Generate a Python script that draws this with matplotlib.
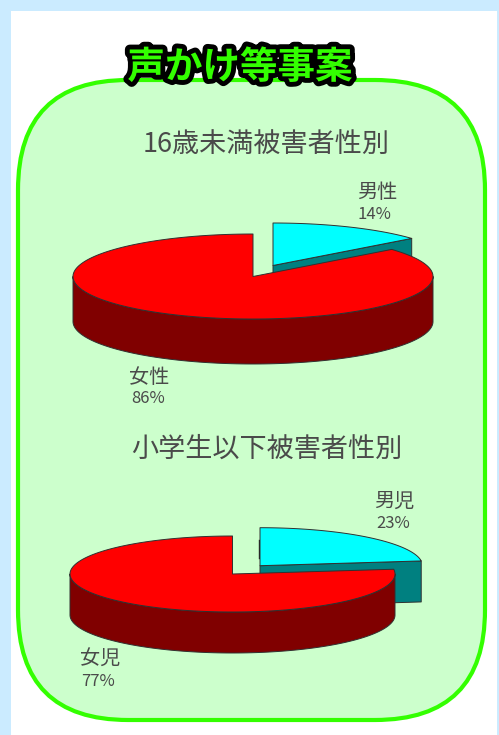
#!/usr/bin/env python3
# coding=utf-8
import numpy as np
import matplotlib
matplotlib.use("Agg")
import matplotlib.pyplot as plt
import matplotlib.patheffects as pe
from matplotlib.patches import FancyBboxPatch, Rectangle

plt.rcParams['font.family'] = ['Noto Sans CJK JP', 'DejaVu Sans']

title = "声かけ等事案"

chart1_title = "16歳未満被害者性別"
chart1_labels = ["女性", "男性"]
chart1_values = [86, 14]

chart2_title = "小学生以下被害者性別"
chart2_labels = ["女児", "男児"]
chart2_values = [77, 23]

RED, DARK_RED = "#ff0000", "#800000"
CYAN, TEAL = "#00ffff", "#008080"
EDGE = "#303030"
TEXT = "#4a4a4a"


def ell(cx, cy, rx, ry, a0, a1, n=120):
    a = np.radians(np.linspace(a0, a1, n))
    return cx + rx * np.cos(a), cy - ry * np.sin(a)


def edge_fill(ax, x, y, color, z):
    ax.fill(x, y, facecolor=color, edgecolor=EDGE, linewidth=0.7, zorder=z, joinstyle="round")


def pie3d(ax, values, c, rx, ry, depth, offset, back_mark=False):
    cx, cy = c
    dx, dy = offset
    # big slice starts at 12 o'clock and runs counter-clockwise
    end = 90 + 360 * values[0] / sum(values)
    end2 = end - 360
    px, py = cx + dx, cy + dy

    # exploded small slice
    x, y = ell(px, py, rx, ry, end2, 90)
    tx, ty = x[0], y[0]
    edge_fill(ax, [px, tx, tx, px], [py, ty, ty + depth, py + depth], TEAL, 2)
    if back_mark:
        ax.plot([px - 1, px - 1], [py - 26, py - 8], color="#202020", lw=1, zorder=2)
    edge_fill(ax, np.r_[px, x], np.r_[py, y], CYAN, 3)

    # side wall of big slice
    xs, ys = ell(cx, cy, rx, ry, 180, 360)
    edge_fill(ax, np.r_[xs, xs[::-1]], np.r_[ys, ys[::-1] + depth], DARK_RED, 4)
    # top of big slice
    x, y = ell(cx, cy, rx, ry, 90, end, 200)
    edge_fill(ax, np.r_[cx, x], np.r_[cy, y], RED, 5)


def label(ax, x, y, s, size):
    ax.text(x, y, s, fontsize=size, color=TEXT, ha="center", va="center", zorder=6)


fig = plt.figure(figsize=(4.99, 7.35), dpi=100, facecolor="#cbebff")
ax = fig.add_axes([0, 0, 1, 1])
ax.set_xlim(0, 499)
ax.set_ylim(735, 0)
ax.axis("off")

ax.add_patch(Rectangle((11, 11), 486, 730, facecolor="white", edgecolor="none", zorder=0))
r = 110
ax.add_patch(FancyBboxPatch((18 + r, 80 + r), 467 - 2 * r, 640 - 2 * r,
                            boxstyle="round,pad=%d,rounding_size=%d" % (r, r),
                            facecolor="#ccffcc", edgecolor="#33ff00", linewidth=3, zorder=1))

ax.text(240, 67, title, fontsize=27, fontweight="bold", color="#33ff00", ha="center", va="center",
        zorder=10, path_effects=[pe.withStroke(linewidth=7, foreground="black")])

label(ax, 266, 144, chart1_title, 19.5)
pie3d(ax, chart1_values, (253, 276.5), 180, 42.5, 45, (20, -11))
label(ax, 149, 377, chart1_labels[0], 14.5)
label(ax, 148, 398, "%d%%" % chart1_values[0], 12)
label(ax, 377, 192, chart1_labels[1], 14.5)
label(ax, 374, 214, "%d%%" % chart1_values[1], 12)

label(ax, 267, 449, chart2_title, 19.5)
pie3d(ax, chart2_values, (232.5, 574), 162.5, 38, 41, (27.5, -8.3), back_mark=True)
label(ax, 100, 659, chart2_labels[0], 14.5)
label(ax, 98, 681, "%d%%" % chart2_values[0], 12)
label(ax, 394, 501, chart2_labels[1], 14.5)
label(ax, 393, 523, "%d%%" % chart2_values[1], 12)

fig.savefig("out.png", dpi=100, facecolor=fig.get_facecolor())
